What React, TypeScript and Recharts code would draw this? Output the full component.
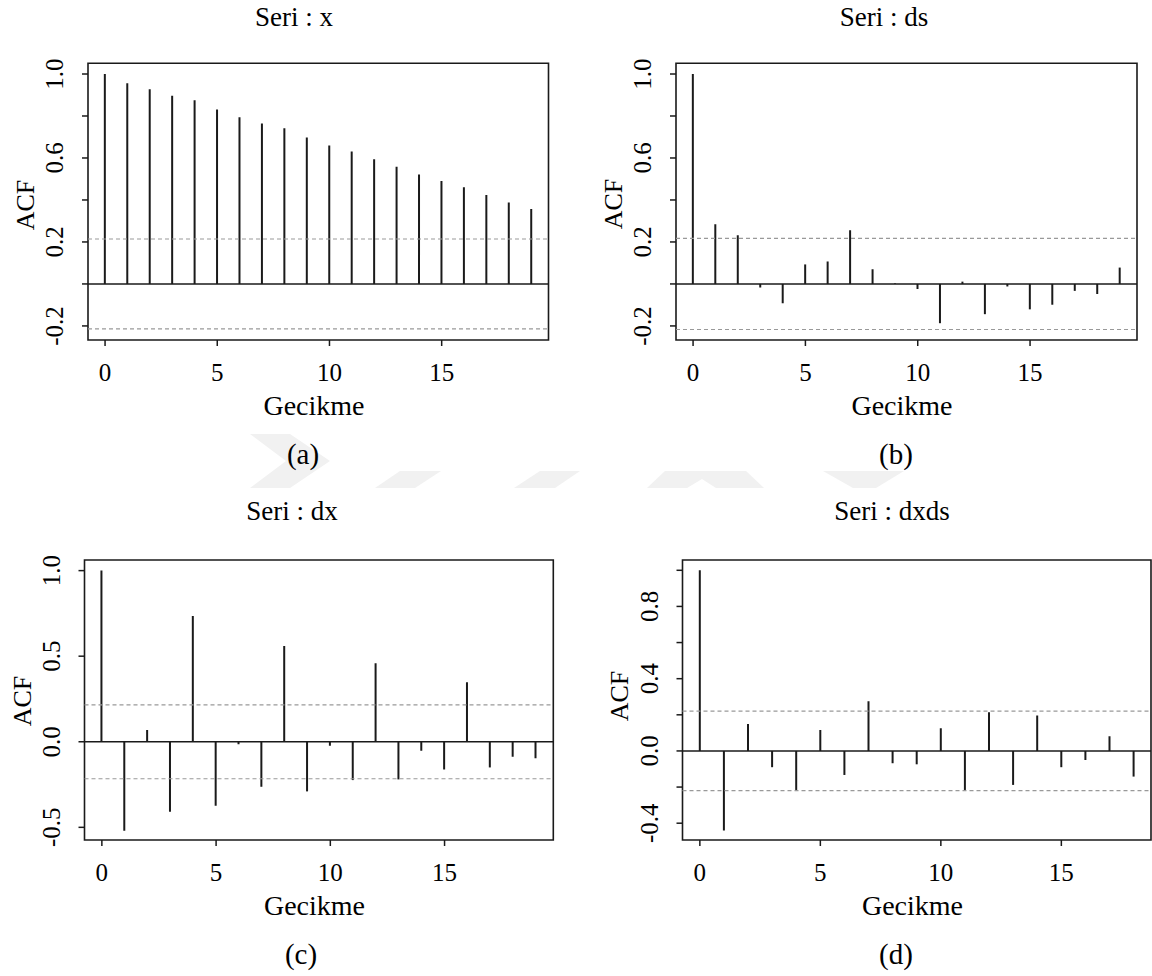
import React from "react";
import { Bar, ComposedChart, ReferenceArea, ReferenceLine, XAxis, YAxis } from "recharts";

// ACF values
const lagsX = [0, 1, 2, 3, 4, 5, 6, 7, 8, 9, 10, 11, 12, 13, 14, 15, 16, 17, 18, 19];
const acfX = [1.0, 0.956, 0.927, 0.897, 0.875, 0.831, 0.794, 0.764, 0.742, 0.697, 0.66, 0.631, 0.594, 0.558, 0.521, 0.49, 0.46, 0.424, 0.388, 0.357];

const lagsDs = [0, 1, 2, 3, 4, 5, 6, 7, 8, 9, 10, 11, 12, 13, 14, 15, 16, 17, 18, 19];
const acfDs = [1.0, 0.284, 0.232, -0.017, -0.092, 0.093, 0.107, 0.256, 0.07, 0.003, -0.024, -0.187, 0.011, -0.144, -0.012, -0.121, -0.099, -0.033, -0.048, 0.078];

const lagsDx = [0, 1, 2, 3, 4, 5, 6, 7, 8, 9, 10, 11, 12, 13, 14, 15, 16, 17, 18, 19];
const acfDx = [1.0, -0.52, 0.068, -0.409, 0.735, -0.374, -0.014, -0.263, 0.559, -0.29, -0.023, -0.224, 0.458, -0.22, -0.053, -0.162, 0.347, -0.15, -0.088, -0.096];

const lagsDxds = [0, 1, 2, 3, 4, 5, 6, 7, 8, 9, 10, 11, 12, 13, 14, 15, 16, 17, 18];
const acfDxds = [1.0, -0.441, 0.149, -0.09, -0.216, 0.116, -0.133, 0.275, -0.068, -0.074, 0.125, -0.216, 0.214, -0.188, 0.196, -0.09, -0.05, 0.081, -0.142];

const xTicks = [0, 5, 10, 15];
const yTicksAB = [-0.2, 0, 0.2, 0.4, 0.6, 0.8, 1.0];
const yLabelsAB = [-0.2, 0.2, 0.6, 1.0];
const yTicksC = [-0.5, 0, 0.5, 1.0];
const yTicksD = [-0.4, -0.2, 0, 0.2, 0.4, 0.6, 0.8, 1.0];
const yLabelsD = [-0.4, 0, 0.4, 0.8];

const FONT = "Liberation Serif";
const INK = "#1a1a1a";
const TXT = "#000";

type Box = { l: number; r: number; t: number; b: number };
type Panel = {
  title: string;
  tag: string;
  lags: number[];
  acf: number[];
  ci: number;
  xDomain: [number, number];
  yDomain: [number, number];
  yTicks: number[];
  yLabels: number[];
  box: Box;
  chart: { left: number; top: number; w: number; h: number };
  titleX: number;
  titleY: number;
  gecX: number;
  gecY: number;
  tagX: number;
  tagY: number;
  acfX: number;
  acfY: number;
};

const panels: Panel[] = [
  {
    title: "Seri : x", tag: "(a)", lags: lagsX, acf: acfX, ci: 0.214,
    xDomain: [-0.76, 19.76], yDomain: [-0.267, 1.051], yTicks: yTicksAB, yLabels: yLabelsAB,
    box: { l: 88, r: 548.5, t: 63.3, b: 340 }, chart: { left: 0, top: 0, w: 576, h: 440 },
    titleX: 294, titleY: 26, gecX: 314, gecY: 415, tagX: 303, tagY: 464, acfX: 34, acfY: 205,
  },
  {
    title: "Seri : ds", tag: "(b)", lags: lagsDs, acf: acfDs, ci: 0.217,
    xDomain: [-0.76, 19.76], yDomain: [-0.267, 1.051], yTicks: yTicksAB, yLabels: yLabelsAB,
    box: { l: 676, r: 1137, t: 63.3, b: 340 }, chart: { left: 576, top: 0, w: 576, h: 440 },
    titleX: 884, titleY: 26, gecX: 902, gecY: 415, tagX: 896, tagY: 464, acfX: 622, acfY: 204,
  },
  {
    title: "Seri : dx", tag: "(c)", lags: lagsDx, acf: acfDx, ci: 0.216,
    xDomain: [-0.76, 19.76], yDomain: [-0.574, 1.062], yTicks: yTicksC, yLabels: yTicksC,
    box: { l: 84.5, r: 553.3, t: 560, b: 840 }, chart: { left: 0, top: 490, w: 576, h: 450 },
    titleX: 292, titleY: 520, gecX: 314.5, gecY: 915, tagX: 301, tagY: 964, acfX: 31, acfY: 701,
  },
  {
    title: "Seri : dxds", tag: "(d)", lags: lagsDxds, acf: acfDxds, ci: 0.22,
    xDomain: [-0.72, 18.72], yDomain: [-0.493, 1.057], yTicks: yTicksD, yLabels: yLabelsD,
    box: { l: 682.5, r: 1151, t: 560, b: 840 }, chart: { left: 576, top: 490, w: 576, h: 450 },
    titleX: 892, titleY: 520, gecX: 912.5, gecY: 915, tagX: 896, tagY: 964, acfX: 628, acfY: 696,
  },
];

const fmt = (v: number) => (v < 0 ? "-" : "") + Math.abs(v).toFixed(1);

function Stick(props: any) {
  const { x, y, width, height } = props;
  if (x == null || y == null) return null;
  const cx = x + (width || 0) / 2;
  return <line x1={cx} x2={cx} y1={y} y2={y + (height || 0)} stroke={INK} strokeWidth={2} />;
}

const Y_AXIS_W = 40;
const X_AXIS_H = 30;
const textStyle = { fontFamily: FONT };

function AcfPanel({ p }: { p: Panel }) {
  const data = p.lags.map((lag, i) => ({ lag, acf: p.acf[i] }));
  const { box, chart } = p;
  const margin = {
    top: box.t - chart.top,
    left: box.l - chart.left - Y_AXIS_W,
    right: chart.left + chart.w - box.r,
    bottom: chart.top + chart.h - box.b - X_AXIS_H,
  };
  const xLabelY = box.b - chart.top + 41;
  const yLabelX = box.l - chart.left - 25;

  const renderXTick = (t: any) => (
    <text x={t.x} y={xLabelY} textAnchor="middle" style={textStyle} fontSize={25} fill={TXT}>
      {t.payload.value}
    </text>
  );
  const renderYTick = (t: any) => {
    const v = t.payload.value;
    if (!p.yLabels.some((l) => Math.abs(l - v) < 1e-9)) return <g />;
    return (
      <text
        transform={`translate(${yLabelX},${t.y}) rotate(-90)`}
        textAnchor="middle"
        style={textStyle}
        fontSize={25}
        fill={TXT}
      >
        {fmt(v)}
      </text>
    );
  };

  return (
    <div style={{ position: "absolute", left: chart.left, top: chart.top, width: chart.w, height: chart.h }}>
      <ComposedChart width={chart.w} height={chart.h} data={data} margin={margin}>
        <XAxis
          type="number"
          dataKey="lag"
          domain={p.xDomain}
          ticks={xTicks}
          interval={0}
          allowDataOverflow
          height={X_AXIS_H}
          axisLine={false}
          tickSize={6}
          tickLine={{ stroke: INK, strokeWidth: 1.5 }}
          tick={renderXTick}
        />
        <YAxis
          type="number"
          domain={p.yDomain}
          ticks={p.yTicks}
          interval={0}
          allowDataOverflow
          width={Y_AXIS_W}
          axisLine={false}
          tickSize={6}
          tickLine={{ stroke: INK, strokeWidth: 1.5 }}
          tick={renderYTick}
        />
        <ReferenceArea
          x1={p.xDomain[0]}
          x2={p.xDomain[1]}
          y1={p.yDomain[0]}
          y2={p.yDomain[1]}
          fill="none"
          fillOpacity={0}
          stroke={INK}
          strokeWidth={1.6}
        />
        <ReferenceLine y={p.ci} stroke="#999" strokeWidth={1.2} strokeDasharray="4 3" />
        <ReferenceLine y={-p.ci} stroke="#999" strokeWidth={1.2} strokeDasharray="4 3" />
        <ReferenceLine y={0} stroke={INK} strokeWidth={1.6} />
        <Bar dataKey="acf" barSize={2} shape={Stick} isAnimationActive={false} />
      </ComposedChart>
    </div>
  );
}

export default function App() {
  return (
    <div style={{ position: "absolute", left: 0, top: 0, width: 1152, height: 976, background: "#fff", overflow: "hidden" }}>
      <svg width={1152} height={976} style={{ position: "absolute", left: 0, top: 0 }}>
        {/* faint watermark */}
        <g fill="#f1f1f1">
          <polygon points="250,434 290,434 330,461 290,488 250,488 286,461" />
          <polygon points="375,488 400,471 441,471 415,488" />
          <polygon points="514,488 540,471 580,471 555,488" />
          <polygon points="647,488 665,471 746,471 764,488 716,488 702,479 687,488" />
          <polygon points="823,471 904,471 876,488 853,488" />
        </g>
        {panels.map((p) => (
          <g key={p.tag} style={textStyle} fill={TXT}>
            <text x={p.titleX} y={p.titleY} textAnchor="middle" fontSize={27}>{p.title}</text>
            <text x={p.gecX} y={p.gecY} textAnchor="middle" fontSize={28}>Gecikme</text>
            <text x={p.tagX} y={p.tagY} textAnchor="middle" fontSize={29}>{p.tag}</text>
            <text transform={`translate(${p.acfX},${p.acfY}) rotate(-90)`} textAnchor="middle" fontSize={26}>ACF</text>
          </g>
        ))}
      </svg>
      {panels.map((p) => (
        <AcfPanel key={p.tag} p={p} />
      ))}
    </div>
  );
}
